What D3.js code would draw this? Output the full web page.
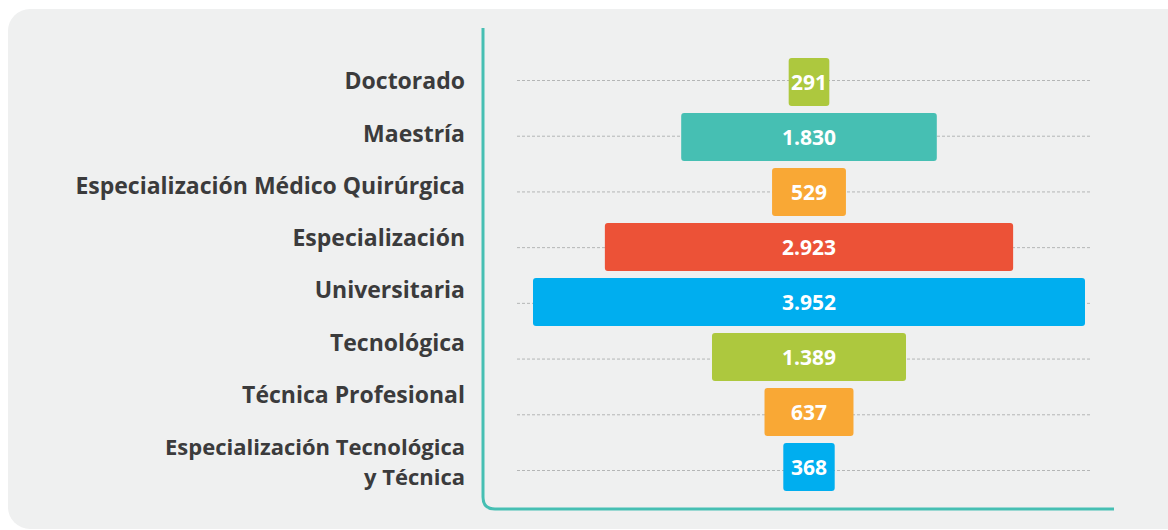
<!DOCTYPE html>
<html>
<head>
<meta charset="utf-8">
<script src="https://cdn.jsdelivr.net/npm/d3@7"></script>
<style>
  html, body { margin: 0; padding: 0; background: #fff; }
  svg { display: block; }
  .cat { font-family: "Open Sans", sans-serif; font-weight: 700; fill: #3b3b3c; }
  .val { font-family: "Open Sans", sans-serif; font-weight: 700; fill: #fff; }
</style>
</head>
<body>
<div id="chart"></div>
<script>
const categories = [
  ["Doctorado"],
  ["Maestría"],
  ["Especialización Médico Quirúrgica"],
  ["Especialización"],
  ["Universitaria"],
  ["Tecnológica"],
  ["Técnica Profesional"],
  ["Especialización Tecnológica", "y Técnica"]
];
const values = [291, 1830, 529, 2923, 3952, 1389, 637, 368];
const colors = ["#adc83e", "#46bfb3", "#f9a835", "#ec5237", "#00aeef", "#adc83e", "#f9a835", "#00aeef"];

const width = 1168, height = 530;
const cx = 809; // centre of the funnel

const svg = d3.select("#chart")
    .append("svg")
    .attr("width", width)
    .attr("height", height);

// grey panel
svg.append("rect")
    .attr("x", 8).attr("y", 9)
    .attr("width", 1180).attr("height", 520)
    .attr("rx", 22)
    .style("fill", "#eff0f0");

const keys = d3.range(values.length);

const y = d3.scaleBand()
    .domain(keys)
    .range([58, 491])
    .paddingInner(0.127);

// guide lines and labels sit on their own slightly different spacing
const yGrid = d3.scalePoint().domain(keys).range([80.5, 470.5]);
const yLabel = d3.scalePoint().domain(keys).range([81, 447]);

const x = d3.scaleLinear()
    .domain([0, d3.max(values)])
    .range([0, 552]);

const fmt = d3.formatLocale({ decimal: ",", thousands: ".", grouping: [3], currency: ["$", ""] }).format(",d");

// dotted guide lines
svg.append("g")
    .selectAll("line")
    .data(keys)
    .enter()
    .append("line")
    .attr("x1", 517).attr("x2", 1091)
    .attr("y1", d => yGrid(d))
    .attr("y2", d => yGrid(d))
    .style("stroke", "#b4b6b6")
    .style("stroke-width", 1)
    .style("stroke-dasharray", "3,2");

// axis: vertical line with rounded corner into baseline
svg.append("path")
    .attr("d", "M483,28 V497 Q483,509 495,509 H1114")
    .style("fill", "none")
    .style("stroke", "#46bfb3")
    .style("stroke-width", 3);

// bars
svg.append("g")
    .selectAll("rect")
    .data(keys)
    .enter()
    .append("rect")
    .attr("x", d => cx - x(values[d]) / 2)
    .attr("y", d => y(d))
    .attr("width", d => x(values[d]))
    .attr("height", y.bandwidth())
    .attr("rx", 3)
    .style("fill", d => colors[d]);

// value labels
svg.append("g")
    .selectAll("text")
    .data(keys)
    .enter()
    .append("text")
    .attr("class", "val")
    .attr("x", cx)
    .attr("y", d => y(d) + y.bandwidth() / 2)
    .attr("dy", "0.36em")
    .attr("text-anchor", "middle")
    .style("font-size", "21px")
    .text(d => fmt(values[d]));

// category labels, one text per line (two-line label slightly smaller so lines don't collide)
const catLines = keys.flatMap(d => categories[d].map((s, i) => ({ key: d, line: i, text: s, n: categories[d].length })));

svg.append("g")
    .selectAll("text")
    .data(catLines)
    .enter()
    .append("text")
    .attr("class", "cat")
    .attr("text-anchor", "end")
    .style("font-size", d => d.n > 1 ? "22px" : "23px")
    .attr("x", 465)
    .attr("y", d => yLabel(d.key) + d.line * 30)
    .attr("dy", "0.36em")
    .text(d => d.text);
</script>
</body>
</html>
